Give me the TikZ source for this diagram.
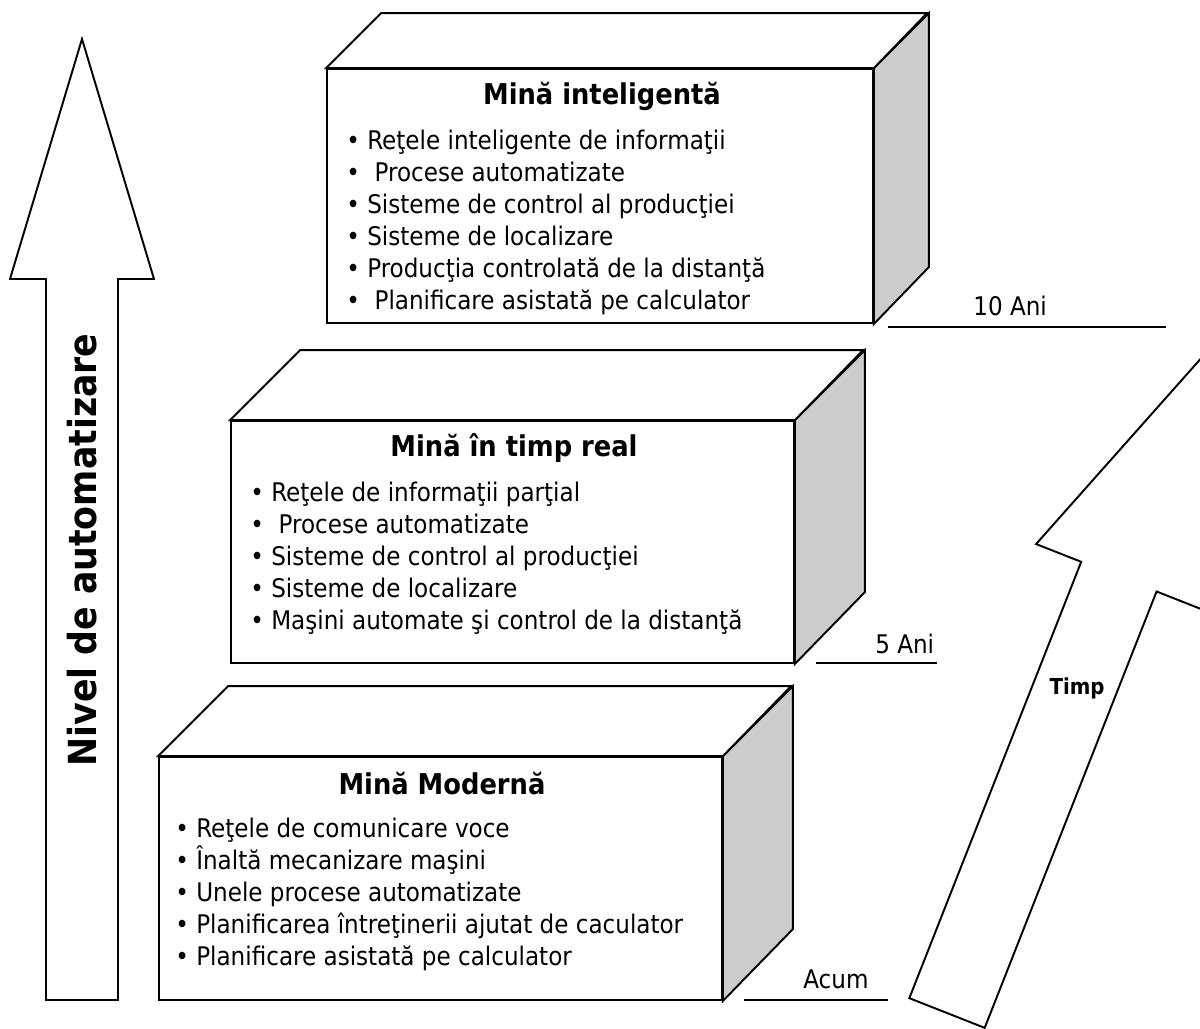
\documentclass[tikz,border=0pt]{standalone}
\usepackage{fontspec}
\IfFontExistsTF{DejaVu Sans Condensed}{\setmainfont{DejaVu Sans Condensed}}{\setmainfont{DejaVu Sans}[FakeStretch=0.9]}
\usetikzlibrary{positioning, calc}
\definecolor{sidegray}{RGB}{204,204,204}

\begin{document}
\begin{tikzpicture}[
    x=0.02cm, y=-0.02cm,
    outline/.style={draw=black, line width=1.1pt, line join=miter},
    front_face/.style={outline, fill=white, inner sep=0pt},
    side_face/.style={outline, fill=sidegray},
    top_face/.style={outline, fill=white},
    box_title/.style={font=\fontsize{16.3}{19}\selectfont\bfseries, inner sep=0pt},
    box_item/.style={font=\fontsize{14.6}{18}\selectfont, anchor=west, inner sep=0pt, text height=11pt, text depth=3pt},
    year_label/.style={font=\fontsize{14.6}{18}\selectfont, anchor=base west, inner sep=0pt},
    year_line/.style={line width=1.1pt}
]
    \useasboundingbox (0,0) rectangle (1200,1028);
    \clip (0,0) rectangle (1200,1028);
    \fill[white] (0,0) rectangle (1200,1028);

    % Level arrow on the left
    \draw[outline, fill=white] (82,39) -- (154,279) -- (118,279) -- (118,1000) -- (46,1000) -- (46,279) -- (10,279) -- cycle;
    \node[box_title, font=\fontsize{22}{26}\selectfont\bfseries, rotate=90] (level_label) at (82,550) {Nivel de automatizare};

    % Top block: intelligent mine
    \node[front_face, minimum width=10.92cm, minimum height=5.08cm] (top_front) at (600,196) {};
    \draw[side_face] (top_front.north east) -- ++(55,-55) -- ++(0,254) -- (top_front.south east) -- cycle;
    \draw[top_face] (top_front.north west) -- ++(55,-55) -- ++(546,0) -- (top_front.north east) -- cycle;
    \node[box_title] (top_title) at (602,96) {Mină inteligentă};
    \foreach \txt [count=\k from 0] in {Reţele inteligente de informaţii, ~Procese automatizate, Sisteme de control al producţiei, Sisteme de localizare, Producţia controlată de la distanţă, ~Planificare asistată pe calculator}
        \node[box_item] (top_item\k) at (346,{142+32*\k}) {\textbullet\ \txt};

    % Middle block: real time mine
    \node[front_face, minimum width=11.26cm, minimum height=4.84cm] (mid_front) at (512.5,542) {};
    \draw[side_face] (mid_front.north east) -- ++(70,-70) -- ++(0,242) -- (mid_front.south east) -- cycle;
    \draw[top_face] (mid_front.north west) -- ++(70,-70) -- ++(563,0) -- (mid_front.north east) -- cycle;
    \node[box_title] (mid_title) at (514,448) {Mină în timp real};
    \foreach \txt [count=\k from 0] in {Reţele de informaţii parţial, ~Procese automatizate, Sisteme de control al producţiei, Sisteme de localizare, Maşini automate şi control de la distanţă}
        \node[box_item] (mid_item\k) at (250,{494+32*\k}) {\textbullet\ \txt};

    % Bottom block: modern mine
    \node[front_face, minimum width=11.26cm, minimum height=4.86cm] (low_front) at (440.5,878.5) {};
    \draw[side_face] (low_front.north east) -- ++(70,-70) -- ++(0,243) -- (low_front.south east) -- cycle;
    \draw[top_face] (low_front.north west) -- ++(70,-70) -- ++(563,0) -- (low_front.north east) -- cycle;
    \node[box_title] (low_title) at (442,784) {Mină Modernă};
    \foreach \txt [count=\k from 0] in {Reţele de comunicare voce, Înaltă mecanizare maşini, Unele procese automatizate, Planificarea întreţinerii ajutat de caculator, Planificare asistată pe calculator}
        \node[box_item] (low_item\k) at (175,{830+32*\k}) {\textbullet\ \txt};

    % Time marks with their rules
    \node[year_label] (ani10) at (973,315) {10 Ani};
    \coordinate (ani10_l) at (888,327);
    \coordinate (ani10_r) at (1166,327);
    \draw[year_line] (ani10_l) -- (ani10_r);

    \node[year_label] (ani5) at (875,653) {5 Ani};
    \coordinate (ani5_l) at (816,663);
    \coordinate (ani5_r) at (937,663);
    \draw[year_line] (ani5_l) -- (ani5_r);

    \node[year_label] (acum) at (803,988) {Acum};
    \coordinate (acum_l) at (744,1000);
    \coordinate (acum_r) at (888,1000);
    \draw[year_line] (acum_l) -- (acum_r);

    % Tilted time arrow
    \begin{scope}[shift={(947,1013)}, rotate=-21.5]
        \draw[outline, fill=white] (-40.5,0) -- (40.5,0) -- (40.5,-469) -- (89,-469) -- (0,-712) -- (-89,-469) -- (-40.5,-469) -- cycle;
    \end{scope}
    \node[font=\fontsize{12.5}{15}\selectfont\bfseries, inner sep=0pt] (time_label) at (1077,688) {Timp};

\end{tikzpicture}
\end{document}
